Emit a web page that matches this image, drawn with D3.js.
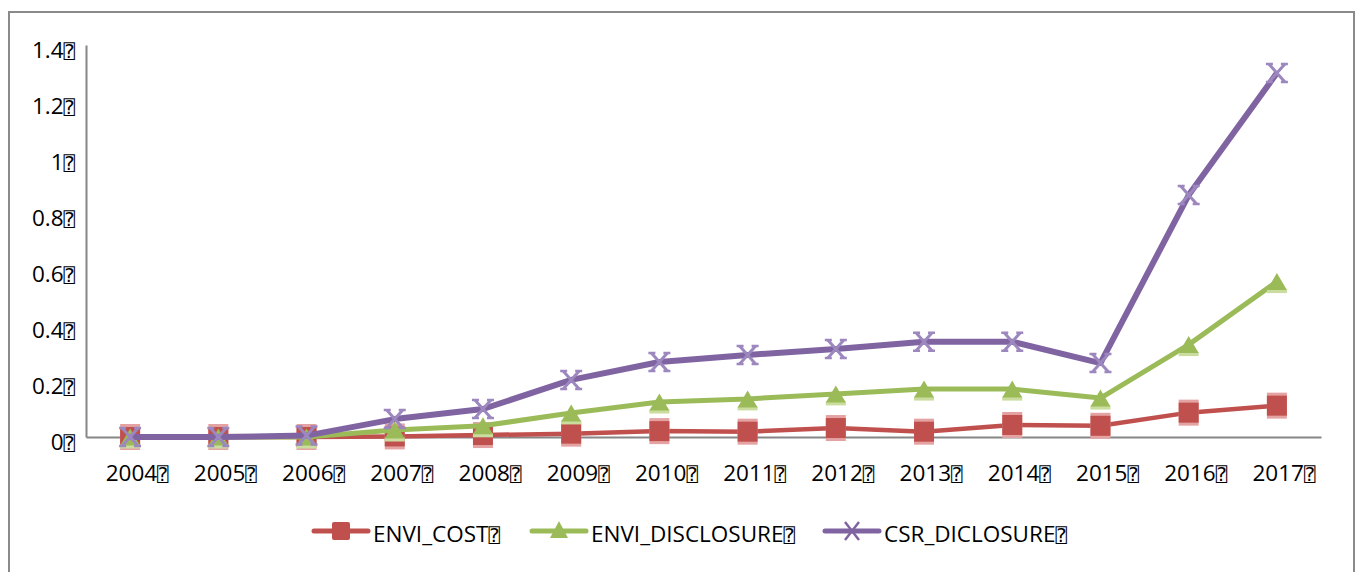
<!DOCTYPE html>
<html><head><meta charset="utf-8">
<script src="https://cdn.jsdelivr.net/npm/d3@7"></script>
<style>body{margin:0;background:#fff}svg{display:block}</style>
</head><body><svg id="c" width="1356" height="572"></svg>
<script>
const years = ["2004","2005","2006","2007","2008","2009","2010","2011","2012","2013","2014","2015","2016","2017"];
const envCost = [0,0,0,0.002,0.007,0.012,0.021,0.019,0.032,0.019,0.043,0.040,0.087,0.112];
const envDisc = [0,0,0,0.025,0.04,0.086,0.125,0.136,0.154,0.171,0.171,0.139,0.33,0.555];
const csrDisc = [0,0,0.005,0.064,0.10,0.204,0.268,0.293,0.314,0.34,0.34,0.264,0.864,1.30];
const yTicks = [0,0.2,0.4,0.6,0.8,1,1.2,1.4];
const seriesNames = ["ENVI_COST","ENVI_DISCLOSURE","CSR_DICLOSURE"];
const BOX = "\u2370";

const svg = d3.select("#c");
const L = 86, R = 1321, T = 45, B = 437;
const font = "'Open Sans', sans-serif";

// outer frame
svg.append("rect").attr("x",9).attr("y",12).attr("width",1345).attr("height",600)
  .attr("fill","none").attr("stroke","#8a8a8a").attr("stroke-width",2);

const x = d3.scaleBand().domain(years).range([L,R]);
const y = d3.scaleLinear().domain([0,1.4]).range([B,T]);
const cx = d => x(d) + x.bandwidth()/2;

// axes
const yAxis = d3.axisLeft(y).tickValues(yTicks).tickSize(0).tickPadding(12)
  .tickFormat(d => d3.format("~g")(d));
const gy = svg.append("g").attr("transform",`translate(${L},0)`).call(yAxis);
gy.select(".domain").attr("stroke","#868686").attr("stroke-width",2);
gy.selectAll(".tick text").remove();
gy.selectAll(".tick").each(function(d){
  const t = d3.select(this).append("text").attr("x",-11).attr("y",12)
    .attr("text-anchor","end").attr("fill","#000")
    .style("font-family",font).style("font-size","22.5px");
  t.append("tspan").text(d3.format("~g")(d));
  t.append("tspan").text(BOX).style("font-family","'DejaVu Sans Mono'").style("font-size","19px");
});

const xAxis = d3.axisBottom(x).tickSize(0);
const gx = svg.append("g").attr("transform",`translate(0,${B})`).call(xAxis);
gx.select(".domain").attr("stroke","#868686").attr("stroke-width",2);
gx.selectAll(".tick text").remove();
gx.selectAll(".tick").each(function(d){
  const t = d3.select(this).append("text").attr("x",7).attr("y",44)
    .attr("text-anchor","middle").attr("fill","#000")
    .style("font-family",font).style("font-size","22.5px");
  t.append("tspan").text(d);
  t.append("tspan").text(BOX).style("font-family","'DejaVu Sans Mono'").style("font-size","19px");
});

// marker drawers
function square(g, px, py, s){
  g.append("rect").attr("x",px-s/2).attr("y",py-s/2-3).attr("width",s).attr("height",s+6).attr("fill","#e4a3a2");
  g.append("rect").attr("x",px-s/2).attr("y",py-s/2).attr("width",s).attr("height",s).attr("fill","#c0504d");
}
function tri(g, px, py, w, h){
  g.append("rect").attr("x",px-w/2).attr("y",py+h/2-1).attr("width",w).attr("height",4).attr("fill","#cadd9f");
  g.append("path").attr("d",`M${px},${py-h/2}L${px+w/2},${py+h/2}L${px-w/2},${py+h/2}Z`).attr("fill","#9bbb59");
}
function cross(g, px, py, w, h){
  const c = "#9c87bf";
  const gg = g.append("g").attr("stroke",c).attr("stroke-width",3).attr("fill","none");
  gg.append("path").attr("d",`M${px-w/2+3},${py-h/2}L${px+w/2-3},${py+h/2}M${px+w/2-3},${py-h/2}L${px-w/2+3},${py+h/2}`);
  gg.append("path").attr("stroke-width",2.5)
    .attr("d",`M${px-w/2},${py-h/2}h7M${px+w/2},${py-h/2}h-7M${px-w/2},${py+h/2}h7M${px+w/2},${py+h/2}h-7`);
}

const line = d3.line().x((d,i)=>cx(years[i])).y(d=>y(d));
const plot = svg.append("g");

// ENVI_COST
plot.append("path").datum(envCost).attr("d",line).attr("fill","none")
  .attr("stroke","#c0504d").attr("stroke-width",4.5).attr("stroke-linejoin","round");
envCost.forEach((v,i)=>square(plot, cx(years[i]), y(v), 20));
// ENVI_DISCLOSURE
plot.append("path").datum(envDisc).attr("d",line).attr("fill","none")
  .attr("stroke","#9bbb59").attr("stroke-width",5).attr("stroke-linejoin","round");
envDisc.forEach((v,i)=>tri(plot, cx(years[i]), y(v), 20, 17));
// CSR
plot.append("path").datum(csrDisc).attr("d",line).attr("fill","none")
  .attr("stroke","#8064a2").attr("stroke-width",6).attr("stroke-linejoin","round");
csrDisc.forEach((v,i)=>cross(plot, cx(years[i]), y(v), 22, 18));

// legend
const leg = [
  {name:seriesNames[0], x0:314, color:"#c0504d", mk:"sq"},
  {name:seriesNames[1], x0:532, color:"#9bbb59", mk:"tri"},
  {name:seriesNames[2], x0:825, color:"#8064a2", mk:"x"}
];
const ly = 531;
leg.forEach(e=>{
  const g = svg.append("g");
  g.append("line").attr("x1",e.x0).attr("x2",e.x0+54).attr("y1",ly).attr("y2",ly)
    .attr("stroke",e.color).attr("stroke-width",5).attr("stroke-linecap","round");
  const mx = e.x0+27;
  if(e.mk==="sq") g.append("rect").attr("x",mx-9).attr("y",ly-9).attr("width",18).attr("height",18).attr("rx",2).attr("fill","#c0504d");
  else if(e.mk==="tri") g.append("path").attr("d",`M${mx},${ly-10}L${mx+9},${ly+7}L${mx-9},${ly+7}Z`).attr("fill","#9bbb59");
  else g.append("path").attr("d",`M${mx-7},${ly-9}L${mx+7},${ly+9}M${mx+7},${ly-9}L${mx-7},${ly+9}`).attr("stroke","#8064a2").attr("stroke-width",2.5);
  const t = g.append("text").attr("x",e.x0+59).attr("y",542).attr("fill","#000")
    .style("font-family",font).style("font-size","22.5px");
  t.append("tspan").text(e.name);
  t.append("tspan").text(BOX).style("font-family","'DejaVu Sans Mono'").style("font-size","19px");
});
</script></body></html>
